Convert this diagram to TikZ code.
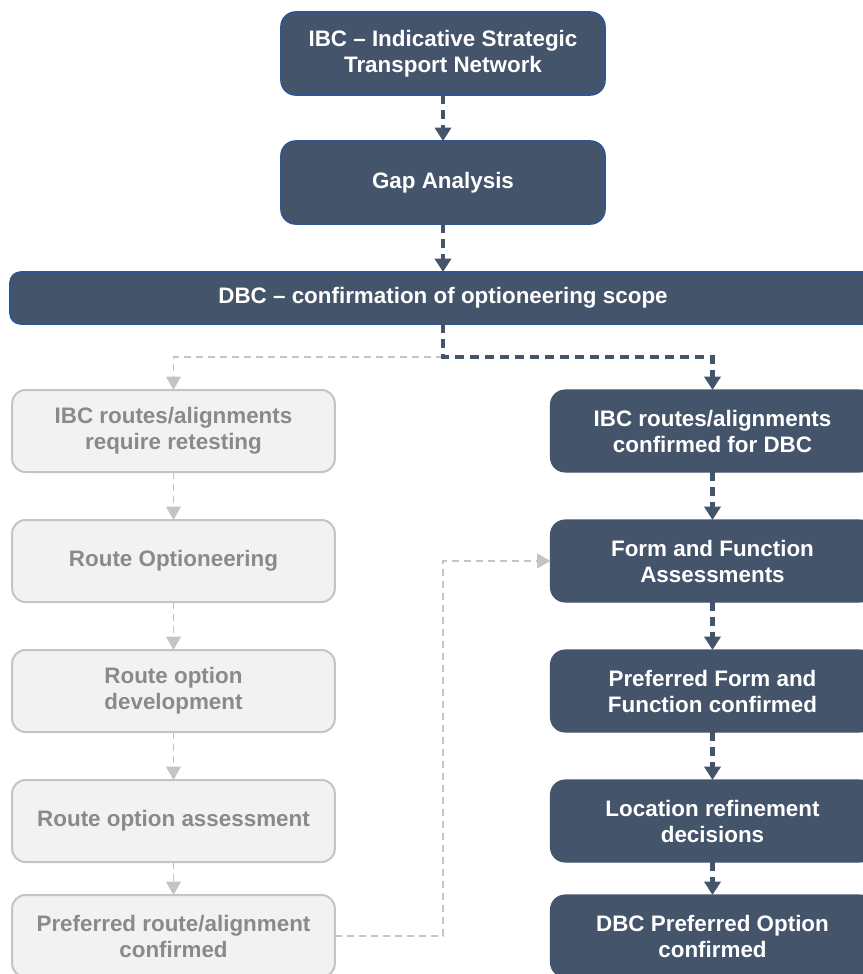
\documentclass[tikz,border=0pt]{standalone}
\usepackage{fontspec}
\setmainfont{Liberation Sans}
\usetikzlibrary{arrows.meta,positioning}
\definecolor{slate}{HTML}{44546A}
\definecolor{edgeblue}{HTML}{2F5597}
\definecolor{paleback}{HTML}{F2F2F2}
\definecolor{paleedge}{HTML}{C4C4C4}
\definecolor{paletext}{HTML}{8A8A8A}

\begin{document}
\begin{tikzpicture}[
x=0.75pt, y=-0.75pt,
node distance=36pt,
every node/.style={font=\fontsize{16.8}{19.5}\selectfont\bfseries, align=center},
mainbox/.style={fill=slate, draw=edgeblue, line width=1.2pt, outer sep=0pt, rounded corners=11pt, text=white, minimum width=243pt, minimum height=62.25pt},
darkbox/.style={fill=slate, draw=slate, line width=0.8pt, outer sep=0pt, rounded corners=11pt, text=white, minimum width=243pt, minimum height=61.5pt},
palebox/.style={fill=paleback, draw=paleedge, line width=1.5pt, outer sep=0pt, rounded corners=10pt, text=paletext, minimum width=242pt, minimum height=61.5pt},
darrow/.style={-{Triangle[length=10pt,width=12pt]}, draw=slate, line width=3.5pt, dash pattern=on 6.75pt off 4.5pt},
garrow/.style={-{Triangle[length=10pt,width=11pt]}, draw=paleedge, line width=1.2pt, dash pattern=on 5.5pt off 3.5pt}
]
\clip (0,0) rectangle (863,974);

\node[mainbox] (ibc) at (443,53.5) {IBC – Indicative Strategic\\Transport Network};
\node[mainbox, below=34.5pt of ibc] (gap) {Gap Analysis};
\node[mainbox, below=of gap, minimum width=649.5pt, minimum height=39pt, rounded corners=8pt] (dbc) {DBC – confirmation of optioneering scope};

\node[palebox] (l1) at (173.5,431) {IBC routes/alignments\\require retesting};
\node[palebox, below=of l1] (l2) {Route Optioneering};
\node[palebox, below=of l2] (l3) {Route option\\development};
\node[palebox, below=of l3] (l4) {Route option assessment};
\node[palebox, below=24.75pt of l4] (l5) {Preferred route/alignment\\confirmed};

\node[darkbox] (r1) at (712.5,431) {IBC routes/alignments\\confirmed for DBC};
\node[darkbox, below=of r1] (r2) {Form and Function\\Assessments};
\node[darkbox, below=of r2] (r3) {Preferred Form and\\Function confirmed};
\node[darkbox, below=of r3] (r4) {Location refinement\\decisions};
\node[darkbox, below=24.75pt of r4] (r5) {DBC Preferred Option\\confirmed};

\draw[darrow] (ibc) -- (gap);
\draw[darrow] (gap) -- (dbc);
\path (dbc.south) ++(0,33) coordinate (fork);
\draw[garrow] (fork) -| (l1.north);
\draw[darrow] (dbc.south) -- (fork) -| (r1.north);
\foreach \a/\b in {l1/l2,l2/l3,l3/l4,l4/l5}
  \draw[garrow] (\a) -- (\b);
\foreach \a/\b in {r1/r2,r2/r3,r3/r4,r4/r5}
  \draw[darrow] (\a) -- (\b);
\draw[garrow] (l5.east) -- (fork |- l5.east) |- (r2.west);
\end{tikzpicture}
\end{document}
